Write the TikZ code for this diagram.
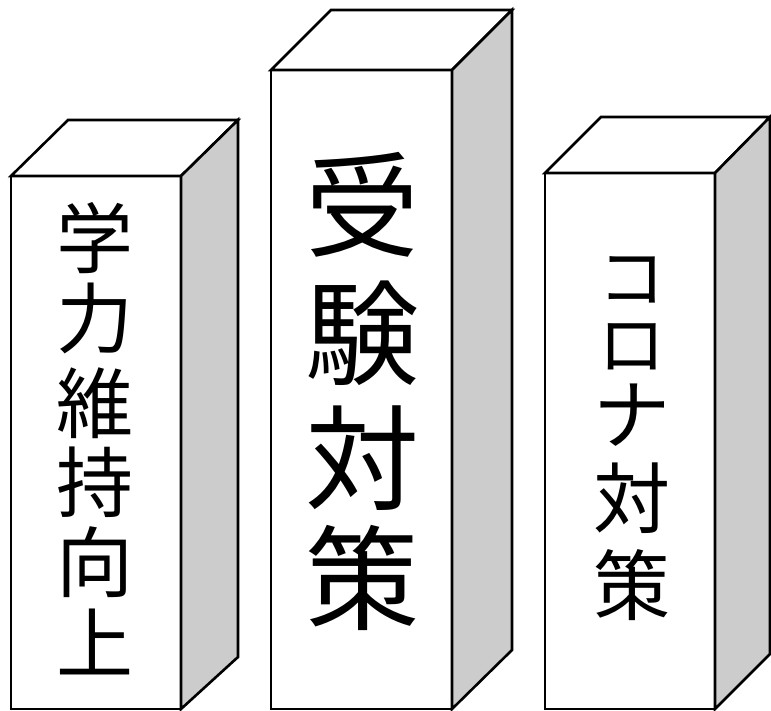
\documentclass[tikz,border=0pt]{standalone}
\usepackage{fontspec}
\newfontfamily\jpfont{Noto Sans CJK JP}
\definecolor{sidegray}{HTML}{CCCCCC}
\begin{document}
\begin{tikzpicture}[x=1pt, y=-1pt, line width=2.6pt, line join=miter,
    face/.style={draw=black, fill=white},
    side face/.style={draw=black, fill=sidegray},
    small char/.style={inner sep=0pt, text height=58pt, text depth=0pt,
      font=\jpfont\fontsize{77}{77}\selectfont},
    kana char/.style={inner sep=0pt, text height=51pt, text depth=0pt,
      font=\jpfont\fontsize{67}{67}\selectfont},
    big char/.style={inner sep=0pt, text height=87pt, text depth=0pt,
      font=\jpfont\fontsize{114}{114}\selectfont}]
        \useasboundingbox (0,0) rectangle (771,710);

          % left pillar
          \draw[face] (11,176) -- (181,176) -- (181,709) -- (11,709) -- cycle;
          \draw[face] (11,176) -- (68,120) -- (238,120) -- (181,176) -- cycle;
          \draw[side face] (181,176) -- (238,120) -- (238,657) -- (181,709) -- cycle;

          % middle pillar
          \draw[face] (271,70) -- (452,70) -- (452,709) -- (271,709) -- cycle;
          \draw[face] (271,70) -- (331,10) -- (512,10) -- (452,70) -- cycle;
          \draw[side face] (452,70) -- (512,10) -- (512,650) -- (452,709) -- cycle;

          % right pillar
          \draw[face] (545,173) -- (715,173) -- (715,709) -- (545,709) -- cycle;
          \draw[face] (545,173) -- (601,117) -- (770,117) -- (715,173) -- cycle;
          \draw[side face] (715,173) -- (770,117) -- (770,654) -- (715,709) -- cycle;

          % texts
          \foreach \ch/\y [count=\i] in {学/238,力/318,維/403,持/482,向/562,上/643}
            \node[small char] (left\i) at (95,\y) {\ch};
          \foreach \ch/\y [count=\i] in {受/205,験/333,対/458,策/578}
            \node[big char] (mid\i) at (362,\y) {\ch};
          \node[kana char] (right1) at (632,277) {コ};
          \node[kana char] (right2) at (632,344) {ロ};
          \node[small char] (right3) at (632,414) {ナ};
          \node[small char] (right4) at (632,498) {対};
          \node[small char] (right5) at (632,585) {策};

        \end{tikzpicture}
\end{document}
